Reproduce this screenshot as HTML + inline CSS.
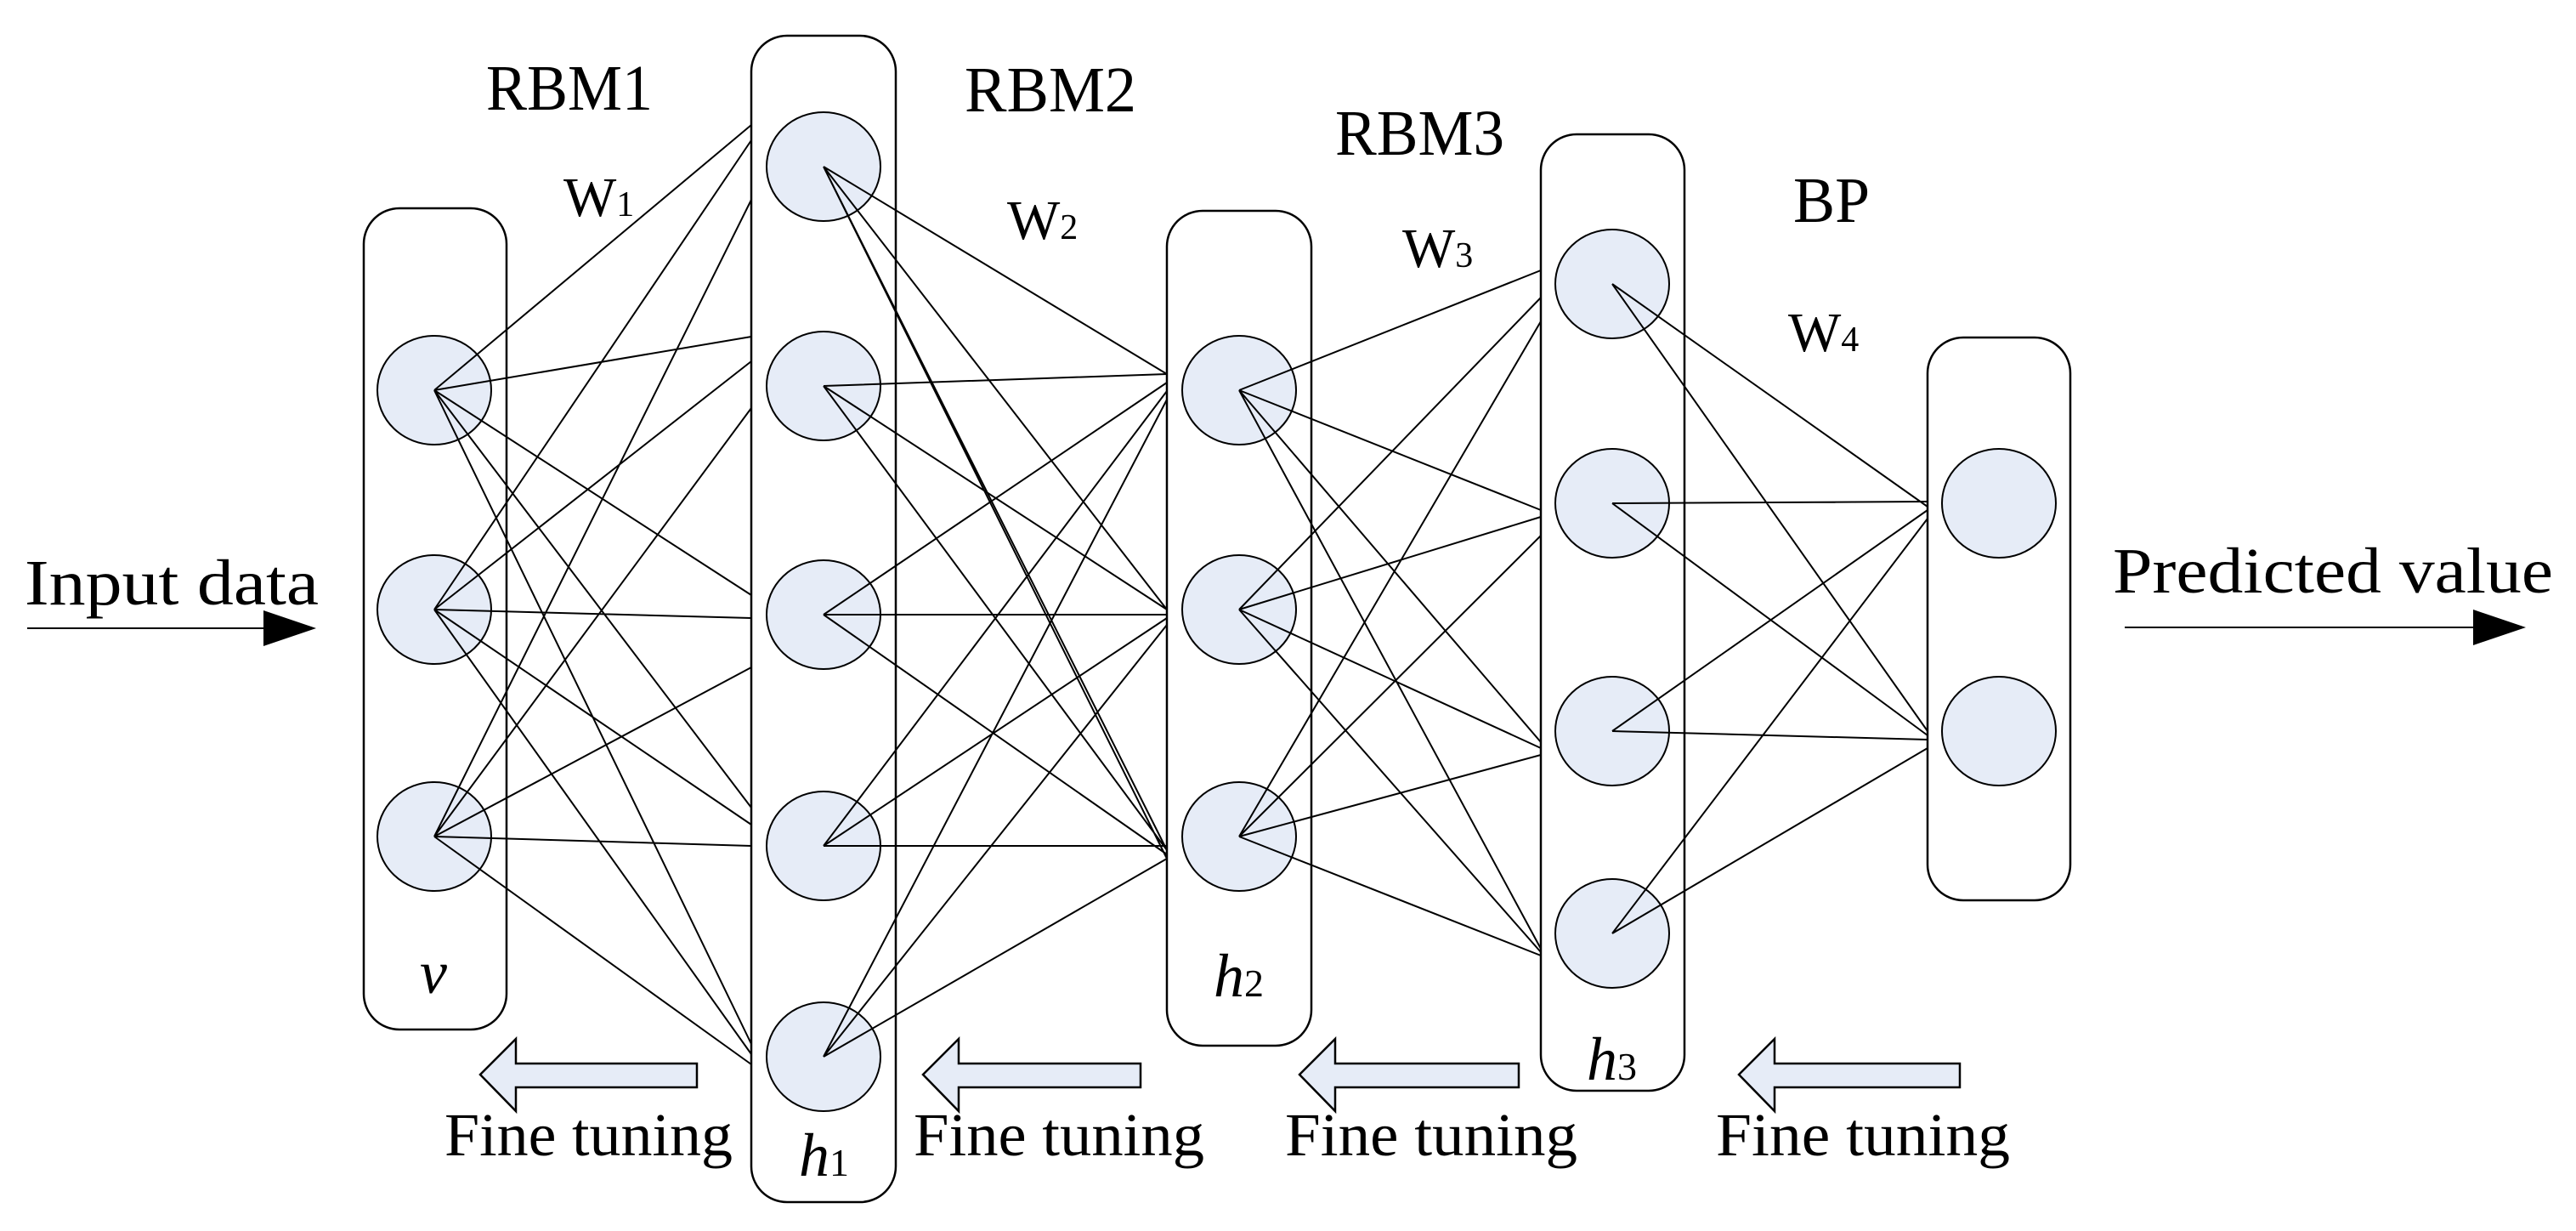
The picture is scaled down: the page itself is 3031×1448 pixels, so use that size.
<!DOCTYPE html>
<html><head><meta charset="utf-8"><style>html,body{margin:0;padding:0;background:#fff}svg{display:block}</style></head>
<body>
<svg xmlns="http://www.w3.org/2000/svg" width="3031" height="1448" viewBox="0 0 3031 1448">
<g fill="none" stroke="#000" stroke-width="2.5">
<rect x="428" y="245" width="168" height="966" rx="42"/>
<rect x="884" y="42" width="170" height="1372" rx="42"/>
<rect x="1373" y="248" width="170" height="982" rx="42"/>
<rect x="1813" y="158" width="169" height="1125" rx="42"/>
<rect x="2268" y="397" width="168" height="662" rx="42"/>
</g>
<g fill="#e6ecf7" stroke="#000" stroke-width="2">
<ellipse cx="511" cy="459" rx="67" ry="64"/><ellipse cx="511" cy="717" rx="67" ry="64"/><ellipse cx="511" cy="984" rx="67" ry="64"/>
<ellipse cx="969" cy="196" rx="67" ry="64"/><ellipse cx="969" cy="454" rx="67" ry="64"/><ellipse cx="969" cy="723" rx="67" ry="64"/><ellipse cx="969" cy="995" rx="67" ry="64"/><ellipse cx="969" cy="1243" rx="67" ry="64"/>
<ellipse cx="1458" cy="459" rx="67" ry="64"/><ellipse cx="1458" cy="717" rx="67" ry="64"/><ellipse cx="1458" cy="984" rx="67" ry="64"/>
<ellipse cx="1897" cy="334" rx="67" ry="64"/><ellipse cx="1897" cy="592" rx="67" ry="64"/><ellipse cx="1897" cy="860" rx="67" ry="64"/><ellipse cx="1897" cy="1098" rx="67" ry="64"/>
<ellipse cx="2352" cy="592" rx="67" ry="64"/><ellipse cx="2352" cy="860" rx="67" ry="64"/>
</g>
<g stroke="#000" stroke-width="2" fill="none">
<path d="M511 459 L884 147 M511 459 L884 396 M511 459 L884 700 M511 459 L884 950 M511 459 L884 1228
M511 717 L884 165 M511 717 L884 425 M511 717 L884 727 M511 717 L884 970 M511 717 L884 1240
M511 984 L884 235 M511 984 L884 480 M511 984 L884 785 M511 984 L884 995 M511 984 L884 1252"/>
<path d="M969 196 L1373 440 M969 196 L1373 717 M969 196 L1373 1000 M969 196 L1373 1010
M969 454 L1373 440 M969 454 L1373 717 M969 454 L1373 1000
M969 723 L1373 450 M969 723 L1373 723 M969 723 L1373 1005
M969 995 L1373 460 M969 995 L1373 727 M969 995 L1373 995
M969 1243 L1373 470 M969 1243 L1373 735 M969 1243 L1373 1010"/>
<path d="M1458 459 L1813 318 M1458 459 L1813 600 M1458 459 L1813 873 M1458 459 L1813 1116
M1458 717 L1813 350 M1458 717 L1813 608 M1458 717 L1813 880 M1458 717 L1813 1120
M1458 984 L1813 378 M1458 984 L1813 630 M1458 984 L1813 888 M1458 984 L1813 1124"/>
<path d="M1897 334 L2268 596 M1897 334 L2268 860
M1897 592 L2268 590 M1897 592 L2268 865
M1897 860 L2268 600 M1897 860 L2268 870
M1897 1098 L2268 610 M1897 1098 L2268 880"/>
<path d="M32 739 L315 739"/>
<path d="M2500 738 L2915 738"/>
</g>
<polygon points="310,718 372,739 310,760" fill="#000"/>
<polygon points="2910,717 2972,738 2910,759" fill="#000"/>
<g fill="#e6ecf7" stroke="#000" stroke-width="2.5">
<polygon points="565,1264 607,1222 607,1251 820,1251 820,1279 607,1279 607,1307"/>
<polygon points="1086,1264 1128,1222 1128,1251 1342,1251 1342,1279 1128,1279 1128,1307"/>
<polygon points="1529,1264 1571,1222 1571,1251 1787,1251 1787,1279 1571,1279 1571,1307"/>
<polygon points="2046,1264 2088,1222 2088,1251 2306,1251 2306,1279 2088,1279 2088,1307"/>
</g>
<g font-family="Liberation Serif, serif" fill="#000">
<text x="572" y="129" font-size="76" textLength="196" lengthAdjust="spacingAndGlyphs">RBM1</text>
<text x="1135" y="131" font-size="76" textLength="202" lengthAdjust="spacingAndGlyphs">RBM2</text>
<text x="1571" y="182" font-size="76" textLength="199" lengthAdjust="spacingAndGlyphs">RBM3</text>
<text x="2110" y="261" font-size="76" textLength="90" lengthAdjust="spacingAndGlyphs">BP</text>
<text x="663" y="254" font-size="66">W<tspan font-size="42">1</tspan></text>
<text x="1185" y="281" font-size="66">W<tspan font-size="42">2</tspan></text>
<text x="1650" y="314" font-size="66">W<tspan font-size="42">3</tspan></text>
<text x="2104" y="413" font-size="66">W<tspan font-size="42">4</tspan></text>
<text x="29" y="711" font-size="76" textLength="346" lengthAdjust="spacingAndGlyphs">Input data</text>
<text x="2486" y="697" font-size="76" textLength="518" lengthAdjust="spacingAndGlyphs">Predicted value</text>
<text x="523" y="1359" font-size="72" textLength="339" lengthAdjust="spacingAndGlyphs">Fine tuning</text>
<text x="1075" y="1359" font-size="72" textLength="342" lengthAdjust="spacingAndGlyphs">Fine tuning</text>
<text x="1512" y="1359" font-size="72" textLength="344" lengthAdjust="spacingAndGlyphs">Fine tuning</text>
<text x="2019" y="1359" font-size="72" textLength="346" lengthAdjust="spacingAndGlyphs">Fine tuning</text>
<text x="494" y="1168" font-size="72" font-style="italic">v</text>
<text x="940" y="1383" font-size="72" font-style="italic">h<tspan font-style="normal" font-size="46">1</tspan></text>
<text x="1428" y="1172" font-size="72" font-style="italic">h<tspan font-style="normal" font-size="46">2</tspan></text>
<text x="1867" y="1270" font-size="72" font-style="italic">h<tspan font-style="normal" font-size="46">3</tspan></text>
</g>
</svg>
</body></html>
